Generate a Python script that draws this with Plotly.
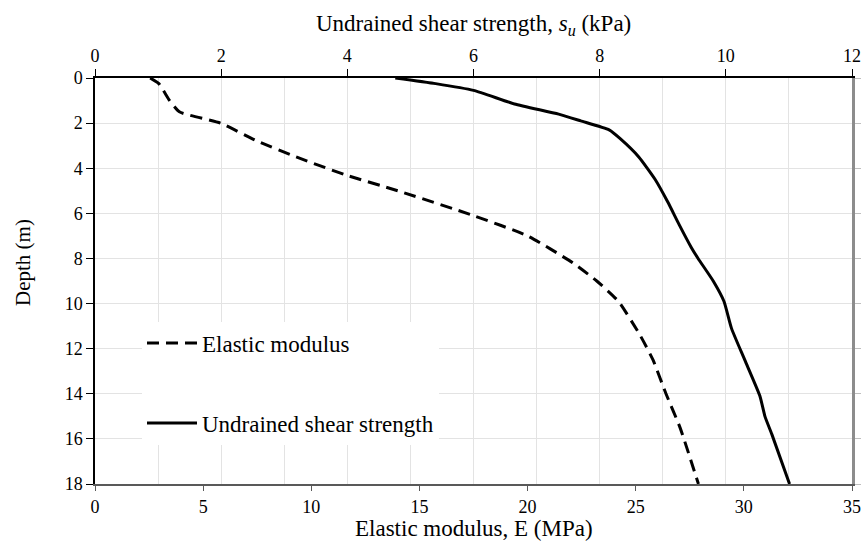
import plotly.graph_objects as go

# Elastic modulus (MPa) vs depth (m) -- bottom axis
depth_E = [0, 0.25, 1.0, 1.5, 2.0, 2.8, 3.5, 4.3, 5.0, 6.1, 7.0, 8.2, 9.0, 9.9, 11.4, 12.5, 14.0, 15.5, 18.0]
E_mpa = [2.55, 2.95, 3.45, 3.9, 5.8, 7.5, 9.3, 11.6, 14.0, 17.5, 20.0, 22.1, 23.2, 24.2, 25.2, 25.8, 26.4, 27.05, 27.9]

# Undrained shear strength (kPa) vs depth (m) -- top axis
depth_su = [0, 0.25, 0.55, 1.15, 1.6, 1.9, 2.3, 2.7, 3.5, 4.5, 5.5, 6.5, 7.5, 8.0, 9.0, 9.9, 11.1, 12.5, 14.1, 15.0, 15.8, 18.0]
su_kpa = [4.76, 5.4, 6.0, 6.65, 7.35, 7.7, 8.15, 8.33, 8.62, 8.88, 9.08, 9.26, 9.45, 9.56, 9.8, 9.97, 10.09, 10.3, 10.54, 10.62, 10.73, 11.01]

E_ticks = [0, 5, 10, 15, 20, 25, 30, 35]
su_ticks = [0, 2, 4, 6, 8, 10, 12]
depth_ticks = [0, 2, 4, 6, 8, 10, 12, 14, 16, 18]

FONT = "Liberation Serif, Times New Roman, serif"
GRID = "#e3e3e3"

fig = go.Figure()
fig.add_trace(go.Scatter(x=E_mpa, y=depth_E, mode="lines", name="Elastic modulus",
                         line=dict(color="black", width=3, dash="12px,7px", shape="spline", smoothing=0.5),
                         xaxis="x", yaxis="y", legendgroup="a"))
fig.add_trace(go.Scatter(x=su_kpa, y=depth_su, mode="lines", name="Undrained shear strength",
                         line=dict(color="black", width=3, shape="spline", smoothing=0.5),
                         xaxis="x2", yaxis="y", legendgroup="b"))
# invisible helper so the right-hand frame axis is drawn
fig.add_trace(go.Scatter(x=[None], y=[None], xaxis="x", yaxis="y2", showlegend=False, hoverinfo="skip"))

fig.update_layout(
    width=865, height=542,
    margin=dict(l=95, r=13, t=78, b=58, autoexpand=False),
    paper_bgcolor="white", plot_bgcolor="white",
    font=dict(family=FONT, size=18, color="black"),
    showlegend=True,
    legend=dict(x=(142 - 95) / 757, y=0.40, xanchor="left", yanchor="top",
                bgcolor="white", font=dict(family=FONT, size=23),
                tracegroupgap=47, itemwidth=50),
    xaxis=dict(range=[0, 35], tickvals=E_ticks, showgrid=False, zeroline=False, automargin=False,
               showline=True, linecolor="#595959", linewidth=2,
               ticks="outside", ticklen=5, tickcolor="#595959", side="bottom"),
    xaxis2=dict(range=[0, 12], tickvals=su_ticks, overlaying="x", side="top", automargin=False,
                showgrid=True, gridcolor=GRID, gridwidth=1, zeroline=False,
                minor=dict(dtick=1, showgrid=True, gridcolor=GRID, gridwidth=1, ticks=""),
                showline=True, linecolor="black", linewidth=1.5,
                ticks="outside", ticklen=7, tickcolor="black"),
    yaxis=dict(range=[18, 0], tickvals=depth_ticks, showgrid=True, gridcolor=GRID, gridwidth=1,
               zeroline=False, showline=True, linecolor="black", linewidth=1.5, automargin=False,
               ticks="outside", ticklen=7, tickcolor="black"),
    yaxis2=dict(range=[18, 0], tickvals=depth_ticks, overlaying="y", side="right", automargin=False,
                showgrid=False, zeroline=False, showticklabels=False,
                showline=True, linecolor="#8c8c8c", linewidth=2.5,
                ticks="outside", ticklen=6, tickcolor="#bfbfbf"),
    shapes=[dict(type="rect", xref="paper", yref="paper",
                 x0=(133 - 95) / 757, x1=(441 - 95) / 757,
                 y0=(484 - 462) / 406, y1=(484 - 301) / 406,
                 fillcolor="white", line=dict(width=0), layer="between")],
    annotations=[
        dict(text="Undrained shear strength, <i>s<sub>u</sub></i> (kPa)", xref="paper", yref="paper",
             x=0.5, y=(484 - 25) / 406, xanchor="center", yanchor="middle", showarrow=False,
             font=dict(family=FONT, size=23)),
        dict(text="Elastic modulus, E (MPa)", xref="paper", yref="paper",
             x=0.5, y=(484 - 528) / 406, xanchor="center", yanchor="middle", showarrow=False,
             font=dict(family=FONT, size=23)),
        dict(text="Depth (m)", xref="paper", yref="paper", textangle=-90,
             x=(23 - 95) / 757, y=(484 - 263) / 406, xanchor="center", yanchor="middle", showarrow=False,
             font=dict(family=FONT, size=21)),
    ],
)

fig.write_html("out.html")
